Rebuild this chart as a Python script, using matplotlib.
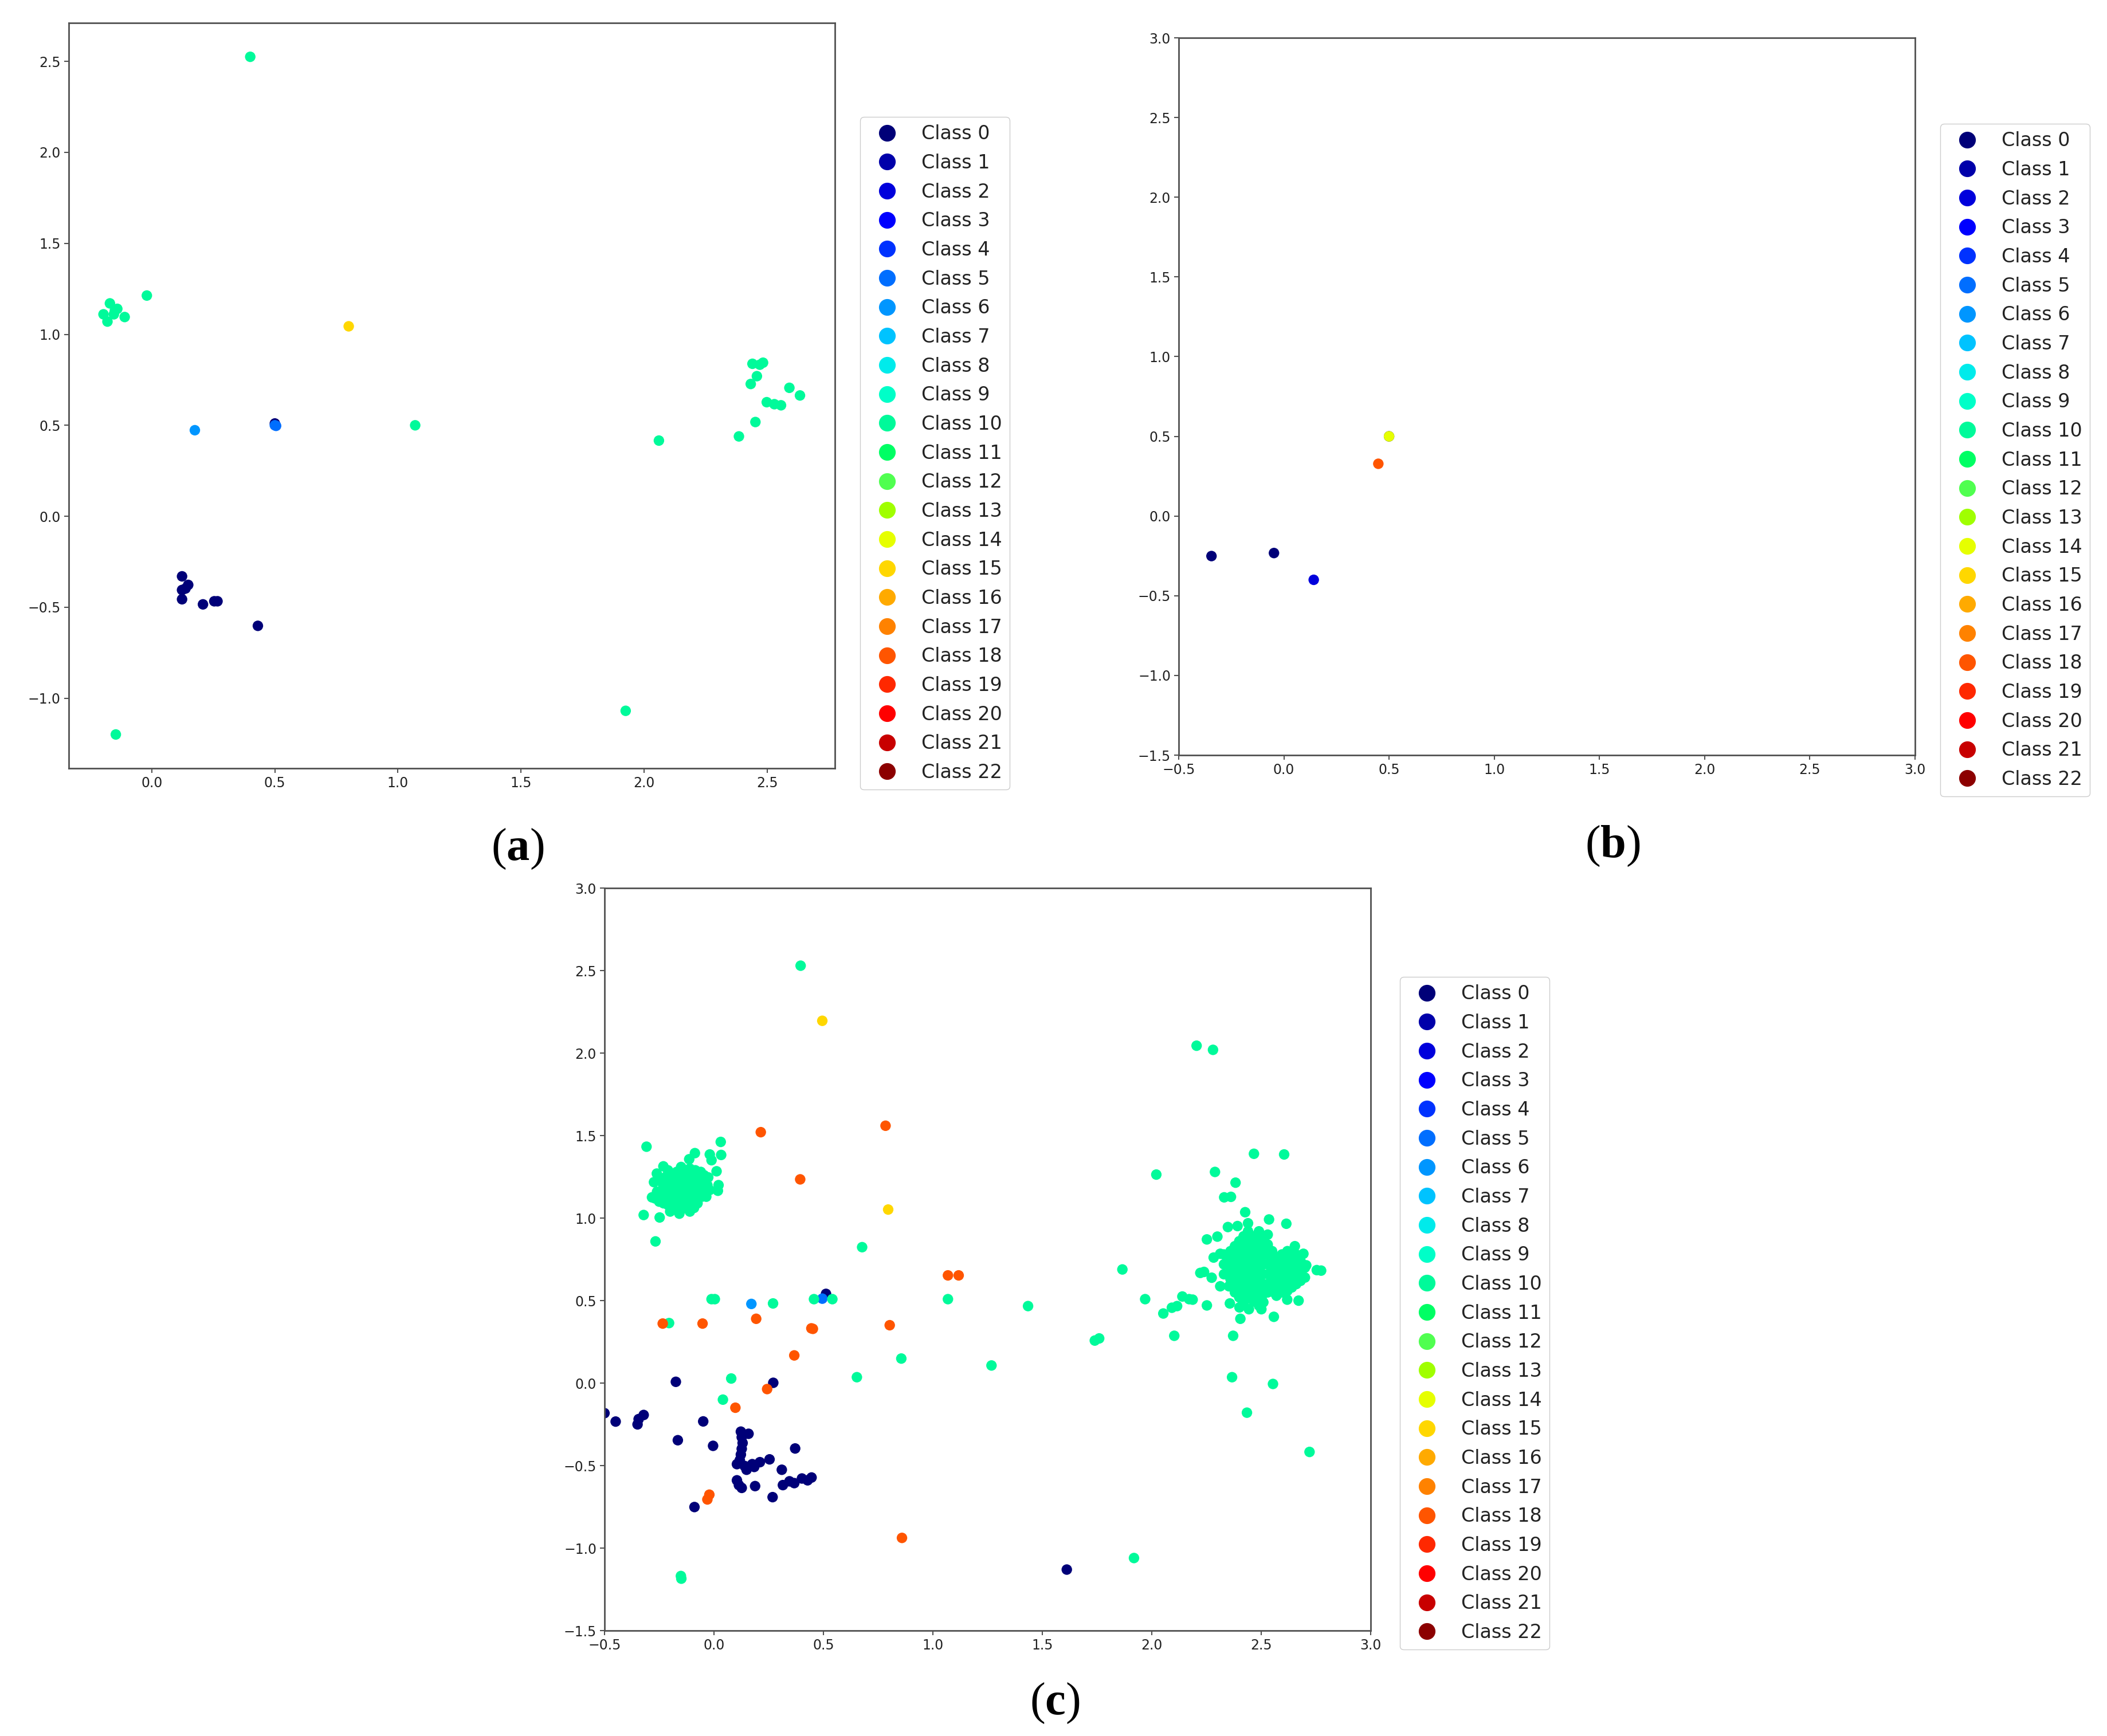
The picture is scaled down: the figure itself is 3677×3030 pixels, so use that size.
import matplotlib
matplotlib.use("Agg")
import matplotlib.pyplot as plt
from matplotlib.lines import Line2D

plt.rcParams['mathtext.fontset'] = 'custom'
plt.rcParams['mathtext.rm'] = 'Liberation Serif'
plt.rcParams['mathtext.bf'] = 'Liberation Serif:bold'

# class colours as they appear in the legends (jet-like, 23 classes)
class_colors = ['#000078', '#0000aa', '#0000dc', '#0000ff', '#0032ff', '#006eff',
                '#0096ff', '#00c3ff', '#00ebeb', '#00ffc8', '#00fa9a', '#00ff64',
                '#50ff50', '#a0ff00', '#e6ff00', '#ffd700', '#ffaa00', '#ff8200',
                '#ff5500', '#ff2800', '#ff0000', '#c80000', '#8c0000']
class_names = [f"Class {i}" for i in range(23)]

# ---- panel (a) ----
a_class0 = [(0.123, -0.33), (0.123, -0.405), (0.148, -0.377), (0.137, -0.397), (0.123, -0.456),
            (0.208, -0.484), (0.254, -0.467), (0.267, -0.467), (0.431, -0.602), (0.50, 0.51)]
a_class5 = [(0.50, 0.50), (0.505, 0.497)]
a_class6 = [(0.175, 0.473)]
a_class10 = [(0.40, 2.525), (-0.02, 1.213), (-0.17, 1.17), (-0.14, 1.14), (-0.196, 1.11),
             (-0.154, 1.11), (-0.18, 1.07), (-0.11, 1.095), (-0.15, 1.13), (1.07, 0.50),
             (-0.146, -1.199), (1.925, -1.069), (2.06, 0.416), (2.385, 0.439), (2.452, 0.518),
             (2.433, 0.727), (2.458, 0.77), (2.44, 0.838), (2.47, 0.833), (2.483, 0.844),
             (2.59, 0.706), (2.633, 0.664), (2.498, 0.627), (2.529, 0.616), (2.556, 0.61)]
a_class15 = [(0.80, 1.044)]

# ---- panel (b) ----
b_class0 = [(-0.344, -0.251), (-0.047, -0.232), (0.50, 0.50)]
b_class2 = [(0.142, -0.40)]
b_class14 = [(0.50, 0.50)]
b_class18 = [(0.449, 0.328)]

# ---- panel (c) ----
c_class0 = [(-0.5, -0.182), (-0.449, -0.233), (-0.349, -0.25), (-0.344, -0.218), (-0.321, -0.193),
            (-0.174, 0.008), (0.271, 0.002), (-0.049, -0.232), (-0.165, -0.346), (-0.004, -0.38),
            (0.371, -0.396), (0.123, -0.294), (0.158, -0.307), (0.127, -0.328), (0.131, -0.363),
            (0.127, -0.398), (0.123, -0.433), (0.118, -0.467), (0.105, -0.491), (0.14, -0.502),
            (0.175, -0.491), (0.21, -0.479), (0.254, -0.462), (0.149, -0.525), (0.184, -0.508),
            (0.31, -0.525), (0.105, -0.589), (0.114, -0.618), (0.127, -0.635), (0.188, -0.624),
            (0.268, -0.691), (0.315, -0.618), (0.345, -0.595), (0.367, -0.606), (0.402, -0.578),
            (0.428, -0.589), (0.446, -0.572), (-0.089, -0.751), (1.612, -1.13), (0.512, 0.541)]
c_class5 = [(0.495, 0.512)]
c_class6 = [(0.171, 0.48)]
c_class15 = [(0.495, 2.196), (0.796, 1.052)]
c_class18 = [(0.784, 1.56), (0.214, 1.521), (0.394, 1.235), (1.069, 0.653), (1.118, 0.653),
             (0.803, 0.351), (-0.234, 0.361), (-0.052, 0.361), (0.193, 0.39), (0.445, 0.332),
             (0.452, 0.329), (0.367, 0.168), (0.243, -0.036), (0.098, -0.149), (-0.021, -0.676),
             (-0.03, -0.705), (0.859, -0.938)]
c_class10_scatter = [(0.396, 2.53), (2.205, 2.045), (2.28, 2.02), (-0.205, 0.364), (-0.011, 0.509),
                     (0.004, 0.509), (0.27, 0.483), (0.457, 0.509), (0.541, 0.509), (0.079, 0.028),
                     (0.041, -0.100), (0.653, 0.036), (0.677, 0.824), (0.856, 0.149), (1.069, 0.509),
                     (1.268, 0.107), (1.435, 0.467), (1.74, 0.258), (1.76, 0.271), (1.866, 0.689),
                     (1.97, 0.509), (1.919, -1.06), (-0.149, -1.185), (-0.151, -1.169), (2.021, 1.264),
                     (2.467, 1.39), (2.605, 1.386), (2.053, 0.422), (2.092, 0.457), (2.116, 0.467),
                     (2.14, 0.525), (2.171, 0.509), (2.103, 0.287), (2.372, 0.287), (2.367, 0.036),
                     (2.554, -0.005), (2.435, -0.179), (2.721, -0.417), (2.774, 0.682)]
c_class10_left = [(-0.308, 1.433), (0.031, 1.462), (0.033, 1.383), (-0.019, 1.386), (-0.011, 1.351),
                  (-0.087, 1.394), (-0.231, 1.314), (0.012, 1.284), (0.021, 1.2), (0.018, 1.166),
                  (-0.321, 1.019), (-0.267, 0.859), (-0.248, 1.004), (-0.158, 1.027), (-0.091, 1.062),
                  (-0.283, 1.126), (-0.274, 1.218), (-0.261, 1.27), (-0.113, 1.357), (-0.052, 1.131),
                  (-0.026, 1.247),
                  (-0.25, 1.10), (-0.24, 1.15), (-0.23, 1.20), (-0.22, 1.25), (-0.21, 1.08),
                  (-0.20, 1.13), (-0.19, 1.18), (-0.18, 1.23), (-0.17, 1.28), (-0.16, 1.05),
                  (-0.15, 1.10), (-0.14, 1.15), (-0.13, 1.20), (-0.12, 1.25), (-0.11, 1.30),
                  (-0.10, 1.08), (-0.09, 1.13), (-0.08, 1.18), (-0.07, 1.23), (-0.06, 1.28),
                  (-0.20, 1.04), (-0.13, 1.06), (-0.08, 1.10), (-0.05, 1.15), (-0.03, 1.20),
                  (-0.26, 1.16), (-0.24, 1.22), (-0.18, 1.16), (-0.16, 1.21), (-0.14, 1.26),
                  (-0.12, 1.12), (-0.10, 1.17), (-0.10, 1.22), (-0.22, 1.12), (-0.17, 1.11),
                  (-0.04, 1.24), (-0.02, 1.17), (-0.15, 1.31), (-0.21, 1.29), (-0.27, 1.12),
                  (-0.245, 1.125), (-0.235, 1.175), (-0.225, 1.225), (-0.215, 1.105), (-0.205, 1.155),
                  (-0.195, 1.205), (-0.185, 1.255), (-0.175, 1.065), (-0.165, 1.125), (-0.155, 1.175),
                  (-0.145, 1.225), (-0.135, 1.275), (-0.125, 1.08), (-0.115, 1.145), (-0.105, 1.195),
                  (-0.095, 1.245), (-0.085, 1.29), (-0.075, 1.09), (-0.065, 1.15), (-0.055, 1.20),
                  (-0.045, 1.26), (-0.19, 1.06), (-0.23, 1.09), (-0.11, 1.04), (-0.035, 1.13)]
c_class10_right = [(2.289, 1.280), (2.383, 1.215), (2.331, 1.126), (2.362, 1.129), (2.427, 1.036),
                   (2.536, 0.992), (2.615, 0.966), (2.252, 0.871), (2.30, 0.888), (2.348, 0.946),
                   (2.392, 0.952), (2.44, 0.969), (2.283, 0.761), (2.313, 0.784), (2.222, 0.668),
                   (2.239, 0.674), (2.274, 0.639), (2.313, 0.587), (2.353, 0.587), (2.187, 0.506),
                   (2.252, 0.471), (2.357, 0.483), (2.401, 0.459), (2.444, 0.448), (2.405, 0.390),
                   (2.558, 0.402), (2.501, 0.448), (2.619, 0.506), (2.671, 0.5), (2.754, 0.685),
                   (2.654, 0.83), (2.693, 0.784), (2.706, 0.714),
                   (2.36, 0.80), (2.36, 0.75), (2.36, 0.69), (2.36, 0.63),
                   (2.40, 0.86), (2.40, 0.81), (2.40, 0.75), (2.40, 0.69), (2.40, 0.63), (2.40, 0.57), (2.40, 0.52),
                   (2.44, 0.92), (2.44, 0.86), (2.44, 0.81), (2.44, 0.75), (2.44, 0.69), (2.44, 0.63), (2.44, 0.57),
                   (2.44, 0.52),
                   (2.49, 0.92), (2.49, 0.86), (2.49, 0.81), (2.49, 0.75), (2.49, 0.69), (2.49, 0.63), (2.49, 0.57),
                   (2.49, 0.52), (2.49, 0.47),
                   (2.53, 0.90), (2.53, 0.84), (2.53, 0.78), (2.53, 0.72), (2.53, 0.66), (2.53, 0.60), (2.53, 0.55),
                   (2.57, 0.76), (2.57, 0.70), (2.57, 0.64), (2.57, 0.58), (2.57, 0.53),
                   (2.62, 0.80), (2.62, 0.74), (2.62, 0.68), (2.62, 0.62), (2.62, 0.56),
                   (2.66, 0.78), (2.66, 0.72), (2.66, 0.66), (2.66, 0.60),
                   (2.70, 0.70), (2.70, 0.64),
                   (2.38, 0.83), (2.38, 0.78), (2.38, 0.72), (2.38, 0.66), (2.38, 0.60), (2.38, 0.55),
                   (2.42, 0.89), (2.42, 0.835), (2.42, 0.78), (2.42, 0.72), (2.42, 0.66), (2.42, 0.60),
                   (2.42, 0.545), (2.42, 0.49),
                   (2.465, 0.89), (2.465, 0.835), (2.465, 0.78), (2.465, 0.72), (2.465, 0.66), (2.465, 0.60),
                   (2.465, 0.545), (2.465, 0.495),
                   (2.51, 0.88), (2.51, 0.83), (2.51, 0.775), (2.51, 0.72), (2.51, 0.66), (2.51, 0.60),
                   (2.51, 0.54), (2.51, 0.49),
                   (2.55, 0.80), (2.55, 0.73), (2.55, 0.67), (2.55, 0.61), (2.55, 0.555),
                   (2.595, 0.78), (2.595, 0.72), (2.595, 0.66), (2.595, 0.60), (2.595, 0.55),
                   (2.64, 0.77), (2.64, 0.70), (2.64, 0.64), (2.64, 0.58),
                   (2.68, 0.74), (2.68, 0.68), (2.68, 0.62),
                   (2.33, 0.78), (2.33, 0.72), (2.33, 0.66)]

panel_a = {0: a_class0, 5: a_class5, 6: a_class6, 10: a_class10, 15: a_class15}
panel_b = {0: b_class0, 2: b_class2, 14: b_class14, 18: b_class18}
panel_c = {0: c_class0, 5: c_class5, 6: c_class6,
           10: c_class10_scatter + c_class10_left + c_class10_right,
           15: c_class15, 18: c_class18}

fig = plt.figure(figsize=(36.77, 30.30), dpi=100)
ax_a = fig.add_axes([0.0326, 0.5574, 0.3636, 0.4294])
ax_b = fig.add_axes([0.5594, 0.5650, 0.3495, 0.4132])
ax_c = fig.add_axes([0.2869, 0.0607, 0.3636, 0.4277])

handles = [Line2D([], [], marker='o', linestyle='', markersize=20,
                  markerfacecolor=c, markeredgecolor=c) for c in class_colors]


def draw_panel(ax, groups, legend_anchor):
    for cls in sorted(groups):
        pts = groups[cls]
        ax.scatter([p[0] for p in pts], [p[1] for p in pts], s=175,
                   color=class_colors[cls], edgecolors='none', zorder=2)
    for sp in ax.spines.values():
        sp.set_color('#505050')
        sp.set_linewidth(2.0)
    ax.tick_params(direction='out', length=6, width=1.5, labelsize=17,
                   colors='#505050', labelcolor='#222222', pad=4)
    fig.legend(handles, class_names, loc='upper left', bbox_to_anchor=legend_anchor,
               bbox_transform=fig.transFigure, borderaxespad=0, fontsize=24,
               labelspacing=0.53, handlelength=2.0, handletextpad=0.8,
               borderpad=0.4, frameon=True, fancybox=True, edgecolor='#cccccc',
               framealpha=1.0, labelcolor='#222222')


draw_panel(ax_a, panel_a, (0.4082, 0.9327))
draw_panel(ax_b, panel_b, (0.9209, 0.9287))
draw_panel(ax_c, panel_c, (0.6644, 0.4373))

for ax in (ax_b, ax_c):
    ax.set_xlim(-0.5, 3.0)
    ax.set_ylim(-1.5, 3.0)

for lab, x, y in [('a', 0.2456, 0.5109), ('b', 0.7653, 0.5125), ('c', 0.5007, 0.0188)]:
    fig.text(x, y, '(' + r'$\mathbf{' + lab + '}$' + ')', ha='center', va='center',
             fontsize=58, family='Liberation Serif', color='black')

fig.savefig('out.png', dpi=100, facecolor='white')
